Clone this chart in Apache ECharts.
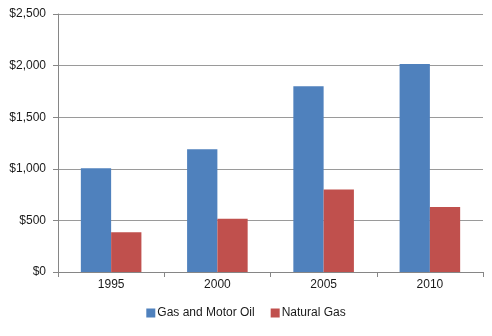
<!DOCTYPE html>
<html><head><meta charset="utf-8">
<script src="https://cdn.jsdelivr.net/npm/echarts@6/dist/echarts.min.js"></script>
<style>html,body{margin:0;padding:0;background:#fff}#c{width:492px;height:336px}</style>
</head><body><div id="c"></div>
<script>
var categories = ['1995', '2000', '2005', '2010'];
var gasMotorOil = [1005, 1190, 1800, 2015];
var naturalGas = [385, 515, 800, 630];
var seriesNames = ['Gas and Motor Oil', 'Natural Gas'];

var chart = echarts.init(document.getElementById('c'));
var font = '"Liberation Sans", "DejaVu Sans", sans-serif';
chart.setOption({
  animation: false,
  textStyle: {fontFamily: font},
  grid: {left: 58, right: 9, top: 14, bottom: 64},
  legend: {
    bottom: 12, left: 'center', itemWidth: 9, itemHeight: 9, itemGap: 16,
    icon: 'rect',
    textStyle: {fontSize: 12, color: '#1a1a1a', fontFamily: font, padding: [0, 0, 0, -3]}
  },
  xAxis: {
    type: 'category', data: categories,
    axisLine: {lineStyle: {color: '#868686'}},
    axisTick: {show: true, length: 5, lineStyle: {color: '#868686'}},
    axisLabel: {fontSize: 12, color: '#1a1a1a', margin: 7}
  },
  yAxis: {
    type: 'value', min: 0, max: 2500, interval: 500,
    axisLine: {show: true, lineStyle: {color: '#868686'}},
    axisTick: {show: true, length: 5, lineStyle: {color: '#868686'}},
    splitLine: {lineStyle: {color: '#9a9a9a'}},
    axisLabel: {fontSize: 12, color: '#1a1a1a', margin: 12,
      formatter: function (v) { return '$' + v.toLocaleString('en-US'); }}
  },
  series: [
    {name: seriesNames[0], type: 'bar', data: gasMotorOil, barGap: '0%', barCategoryGap: '43%',
     itemStyle: {color: '#4F81BD'}},
    {name: seriesNames[1], type: 'bar', data: naturalGas,
     itemStyle: {color: '#C0504D'}}
  ]
});
</script></body></html>
